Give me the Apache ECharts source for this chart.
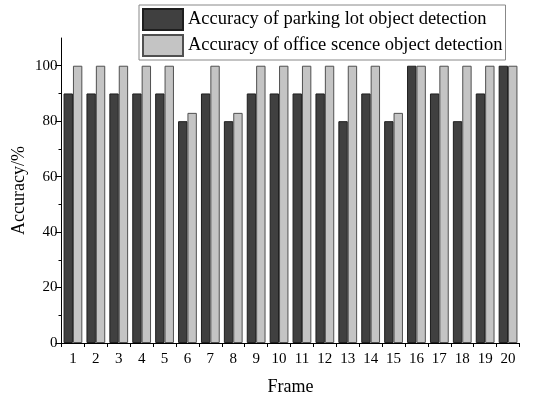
<!DOCTYPE html>
<html><head><meta charset="utf-8">
<script src="https://cdn.jsdelivr.net/npm/echarts@6/dist/echarts.min.js"></script>
<style>html,body{margin:0;padding:0;background:#fff}#c{width:550px;height:401px}</style>
</head><body><div id="c"></div>
<script>
var frames = ['1','2','3','4','5','6','7','8','9','10','11','12','13','14','15','16','17','18','19','20'];
var parking = [90,90,90,90,90,80,90,80,90,90,90,90,80,90,80,100,90,80,90,100];
var office = [100,100,100,100,100,83,100,83,100,100,100,100,100,100,83,100,100,100,100,100];
var majorTicks = [0,20,40,60,80,100];
var minorTicks = [10,30,50,70,90];
var seriesNames = ['Accuracy of parking lot object detection','Accuracy of office scence object detection'];

var font = '"Liberation Serif","Times New Roman",serif';
var chart = echarts.init(document.getElementById('c'));
chart.setOption({
  animation:false,
  grid:{left:61.5,right:30.5,top:38,bottom:57,containLabel:false},
  legend:{
    orient:'vertical',left:139,top:5,icon:'rect',
    padding:[3,3,3,3],itemGap:3,itemWidth:40,itemHeight:21,
    borderColor:'#888',borderWidth:1,
    textStyle:{fontFamily:font,fontSize:18.5,color:'#000'},
    data:seriesNames
  },
  xAxis:{
    type:'category',data:frames,
    name:'Frame',nameLocation:'middle',nameGap:35,
    nameTextStyle:{fontFamily:font,fontSize:18,color:'#000'},
    axisLine:{lineStyle:{color:'#000',width:1}},
    axisTick:{show:true,length:4,lineStyle:{color:'#000'}},
    axisLabel:{fontFamily:font,fontSize:15,color:'#000',margin:9}
  },
  yAxis:[{
    type:'value',min:0,max:110,interval:10,
    name:'Accuracy/%',nameLocation:'middle',nameGap:33,
    nameTextStyle:{fontFamily:font,fontSize:18,color:'#000'},
    axisLine:{show:true,lineStyle:{color:'#000',width:1}},
    axisTick:{show:true,length:3,customValues:minorTicks,lineStyle:{color:'#000'}},
    axisLabel:{show:false},
    splitLine:{show:false}
  },{
    type:'value',min:0,max:110,interval:10,position:'left',
    axisLine:{show:false},
    axisTick:{show:true,length:6,customValues:majorTicks,lineStyle:{color:'#000'}},
    axisLabel:{fontFamily:font,fontSize:15,color:'#000',margin:4,customValues:majorTicks},
    splitLine:{show:false}
  }],
  series:[{
    name:seriesNames[0],type:'bar',data:parking,barGap:'0%',barCategoryGap:'18%',
    itemStyle:{color:'#404040',borderColor:'#1e1e1e',borderWidth:1}
  },{
    name:seriesNames[1],type:'bar',data:office,
    itemStyle:{color:'#c4c4c4',borderColor:'#505050',borderWidth:1}
  }]
});
</script></body></html>
